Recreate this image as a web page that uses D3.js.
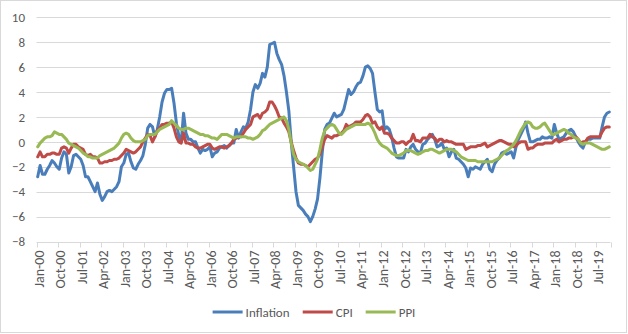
<!DOCTYPE html>
<html>
<head>
<meta charset="utf-8">
<script src="https://cdn.jsdelivr.net/npm/d3@7"></script>
<style>
  body { margin: 0; background: #fff; }
  svg { display: block; }
  text { font-family: Carlito, Calibri, Lato, sans-serif; fill: #595959; }
</style>
</head>
<body>
<svg id="chart" width="628" height="334"></svg>
<script>
// monthly series, Jan-2000 .. Dec-2019 (one row per year)
const inflation = [
  -2.8,-1.9,-2.6,-2.6,-2.2,-1.9,-1.5,-1.7,-2.0,-2.2,-1.3,-0.8,
  -1.0,-2.5,-2.0,-1.1,-1.0,-1.2,-1.4,-1.9,-2.8,-2.8,-3.2,-3.6,
  -4.0,-3.3,-4.2,-4.7,-4.4,-4.0,-3.9,-4.0,-3.8,-3.6,-3.2,-2.0,
  -1.7,-1.0,-0.9,-1.6,-2.1,-2.2,-1.8,-1.5,-1.1,-0.2,1.1,1.4,
  1.2,0.4,1.0,2.0,3.2,3.9,4.2,4.2,4.3,3.1,1.5,0.5,
  0.0,2.3,0.7,0.2,0.2,0.0,0.0,-0.5,-0.9,-0.6,-0.7,-0.6,
  -0.4,-1.2,-0.9,-0.8,-0.5,-0.4,-0.3,-0.5,-0.3,-0.1,-0.1,1.0,
  0.3,0.8,1.2,1.1,1.6,2.6,4.0,4.6,4.3,4.7,5.5,5.2,
  6.0,7.8,7.9,8.0,7.1,6.6,6.2,5.3,4.0,2.5,0.0,-2.0,
  -4.0,-5.1,-5.3,-5.5,-5.8,-6.0,-6.4,-6.0,-5.4,-4.6,-2.9,-0.8,
  1.0,1.4,1.5,1.9,2.3,2.0,2.1,2.2,2.6,3.4,4.2,3.8,
  4.0,4.4,4.7,4.8,5.3,6.0,6.1,5.9,5.5,4.0,2.6,2.4,
  2.5,1.0,1.2,1.0,0.4,-0.5,-1.2,-1.3,-1.3,-1.3,-0.6,-0.8,
  -0.4,-0.2,-0.6,-0.8,-0.9,-0.2,-0.1,0.2,0.4,0.6,0.2,-0.4,
  -0.3,-0.1,-0.6,-0.5,-1.2,-0.8,-0.6,-1.3,-1.4,-1.6,-1.8,-2.1,
  -2.8,-2.1,-2.2,-2.0,-2.1,-2.2,-1.8,-1.6,-1.4,-2.2,-2.4,-1.8,
  -1.5,-1.3,-0.9,-0.8,-1.0,-0.9,-0.8,-1.3,-0.4,0.2,0.6,1.0,
  1.6,0.7,0.0,0.0,0.1,0.2,0.2,0.4,0.3,0.3,0.4,0.3,
  1.4,0.7,0.2,0.3,0.4,0.7,0.9,1.0,0.8,0.4,0.0,-0.3,
  -0.5,0.0,0.2,0.2,0.3,0.3,0.3,0.3,1.2,2.0,2.3,2.4
];

const cpi = [
  -1.2,-0.8,-1.2,-1.2,-1.0,-1.0,-0.9,-0.9,-1.0,-1.0,-0.5,-0.4,
  -0.5,-0.9,-0.5,-0.2,-0.2,-0.4,-0.5,-0.6,-1.0,-1.1,-1.0,-1.2,
  -1.2,-1.3,-1.7,-1.7,-1.6,-1.6,-1.5,-1.5,-1.4,-1.4,-1.3,-1.1,
  -0.9,-0.6,-0.7,-0.8,-0.9,-0.8,-0.6,-0.4,0.0,0.3,0.6,0.5,
  0.0,0.4,0.9,1.1,1.4,1.4,1.5,1.5,1.6,1.1,0.4,0.0,
  -0.1,0.7,-0.1,-0.1,-0.2,-0.2,-0.4,-0.5,-0.5,-0.4,-0.3,-0.2,
  -0.2,-0.5,-0.6,-0.5,-0.4,-0.4,-0.5,-0.4,-0.3,-0.1,0.2,0.3,
  0.4,0.4,0.7,1.0,1.2,1.4,2.0,2.1,2.2,1.9,2.3,2.4,
  2.6,3.2,3.2,2.9,2.5,2.0,1.9,1.5,1.2,0.8,0.0,-0.7,
  -1.3,-1.7,-1.8,-1.8,-1.9,-2.0,-1.8,-1.6,-1.4,-1.3,-1.0,-0.4,
  0.2,0.5,0.4,0.3,0.5,0.5,0.6,0.7,0.9,1.4,1.2,1.3,
  1.4,1.6,1.6,1.6,1.8,2.1,2.2,2.0,1.5,1.6,1.2,1.0,
  1.2,0.7,0.7,0.6,0.3,0.1,-0.1,-0.1,0.0,0.0,-0.2,0.0,
  0.1,0.6,0.1,0.1,0.0,0.3,0.3,0.3,0.6,0.4,0.3,0.0,
  0.2,0.2,0.0,0.1,0.0,0.0,-0.1,-0.2,-0.2,-0.2,-0.2,-0.6,
  -0.5,-0.4,-0.4,-0.4,-0.3,-0.3,-0.2,-0.1,-0.4,-0.3,-0.2,-0.1,
  0.0,0.1,0.1,0.0,-0.1,-0.2,-0.2,-0.4,-0.3,-0.1,0.0,0.0,
  0.0,-0.6,-0.5,-0.5,-0.3,-0.2,-0.2,-0.2,-0.1,-0.1,-0.1,-0.1,
  0.1,0.2,0.0,0.1,0.2,0.2,0.3,0.3,0.4,0.4,0.2,-0.1,
  0.0,0.0,0.3,0.4,0.4,0.4,0.4,0.4,0.8,1.1,1.2,1.2
];

const ppi = [
  -0.4,-0.1,0.1,0.3,0.4,0.4,0.5,0.8,0.7,0.6,0.6,0.4,
  0.2,-0.1,-0.2,-0.3,-0.4,-0.5,-0.7,-0.9,-1.0,-1.2,-1.2,-1.3,
  -1.3,-1.3,-1.1,-1.0,-0.9,-0.8,-0.7,-0.6,-0.5,-0.3,-0.1,0.3,
  0.6,0.7,0.6,0.3,0.1,0.0,0.0,0.0,0.1,0.2,0.5,0.6,
  0.6,0.6,0.8,1.0,1.1,1.2,1.3,1.4,1.7,1.5,1.3,1.1,
  1.0,1.0,1.1,1.1,1.0,0.9,0.8,0.7,0.6,0.6,0.5,0.5,
  0.4,0.3,0.3,0.2,0.4,0.6,0.6,0.6,0.5,0.4,0.3,0.4,
  0.4,0.4,0.4,0.4,0.3,0.3,0.2,0.3,0.4,0.6,0.9,1.0,
  1.2,1.4,1.5,1.6,1.7,1.8,1.9,2.0,1.7,1.0,-0.1,-1.0,
  -1.4,-1.6,-1.7,-1.8,-1.9,-2.1,-2.3,-2.2,-1.8,-1.4,-0.6,0.3,
  0.9,1.1,1.3,1.4,1.3,1.0,0.7,0.6,0.8,1.0,1.1,1.2,
  1.3,1.4,1.4,1.4,1.4,1.4,1.5,1.4,1.1,0.7,0.2,-0.1,
  -0.3,-0.4,-0.5,-0.7,-0.9,-1.0,-1.1,-1.1,-1.0,-0.9,-0.7,-0.7,
  -0.7,-0.8,-0.9,-1.0,-0.9,-0.8,-0.7,-0.7,-0.6,-0.6,-0.7,-0.8,
  -0.9,-0.8,-0.7,-0.6,-0.6,-0.6,-0.7,-0.8,-1.0,-1.2,-1.3,-1.4,
  -1.5,-1.5,-1.5,-1.5,-1.6,-1.6,-1.6,-1.6,-1.6,-1.6,-1.6,-1.5,
  -1.4,-1.3,-1.1,-0.9,-0.7,-0.6,-0.4,-0.2,0.1,0.5,0.9,1.2,
  1.5,1.6,1.5,1.2,1.1,1.1,1.2,1.4,1.5,1.2,0.9,0.6,
  0.6,0.7,0.8,0.9,1.0,0.9,0.7,0.6,0.4,0.3,0.2,-0.1,
  -0.2,-0.1,-0.1,-0.1,-0.2,-0.3,-0.4,-0.5,-0.6,-0.6,-0.5,-0.4
];

const yTicks = [-8, -6, -4, -2, 0, 2, 4, 6, 8, 10];
const tickEvery = 9; // a label every 9 months
const seriesNames = ["Inflation", "CPI", "PPI"];
const seriesColors = ["#4A7EBB", "#BE4B48", "#98B954"];

const months = d3.timeMonth.range(new Date(2000, 0, 1), new Date(2020, 0, 1));
const fmt = d3.timeFormat("%b-%y");

const svg = d3.select("#chart");
const W = 628, H = 334;

// chart area border
svg.append("rect")
    .attr("x", 0.5).attr("y", 0.5)
    .attr("width", W - 2).attr("height", H - 2)
    .attr("fill", "#fff")
    .attr("stroke", "#d9d9d9");

const x = d3.scaleBand()
    .domain(d3.range(months.length))
    .range([36.5, 610.5])
    .padding(0);
const xc = i => x(i) + x.bandwidth() / 2;

const y = d3.scaleLinear()
    .domain([-8, 10])
    .range([241.5, 17.3]);

// horizontal gridlines
svg.append("g")
    .selectAll("line")
    .data(yTicks.filter(d => d > -8))
    .enter()
    .append("line")
    .attr("x1", 36.5).attr("x2", 610.5)
    .attr("y1", d => Math.round(y(d)) + 0.5)
    .attr("y2", d => Math.round(y(d)) + 0.5)
    .attr("stroke", "#d9d9d9")
    .attr("stroke-width", 1);

// y axis labels
const yAxis = d3.axisLeft(y).tickValues(yTicks).tickSize(0).tickPadding(0);
const yg = svg.append("g")
    .attr("transform", "translate(25,0)")
    .call(yAxis);
yg.select(".domain").remove();
yg.selectAll("text")
    .attr("font-size", 13)
    .attr("font-family", null)
    .style("fill", "#595959");

// x axis: line at the bottom, ticks at category boundaries
const axisY = Math.round(y(-8)) + 0.5;
svg.append("line")
    .attr("x1", 36.5).attr("x2", 610.5)
    .attr("y1", axisY).attr("y2", axisY)
    .attr("stroke", "#d9d9d9");

const tickIdx = d3.range(0, months.length, tickEvery);
svg.append("g")
    .selectAll("line")
    .data(tickIdx.concat([months.length]))
    .enter()
    .append("line")
    .attr("x1", d => Math.round(d < months.length ? x(d) : 610.5) + 0.5)
    .attr("x2", d => Math.round(d < months.length ? x(d) : 610.5) + 0.5)
    .attr("y1", axisY).attr("y2", axisY + 5)
    .attr("stroke", "#d9d9d9");

svg.append("g")
    .selectAll("text")
    .data(tickIdx)
    .enter()
    .append("text")
    .attr("transform", d => "translate(" + (xc(d) + 1) + "," + (axisY + 8) + ") rotate(-90)")
    .attr("text-anchor", "end")
    .attr("dy", "0.35em")
    .attr("font-size", 14)
    .text(d => fmt(months[d]));

// series lines
const series = [inflation, cpi, ppi];
const line = d3.line()
    .x((d, i) => xc(i))
    .y(d => y(d));

svg.append("g")
    .selectAll("path")
    .data(series)
    .enter()
    .append("path")
    .attr("d", d => line(d))
    .attr("fill", "none")
    .attr("stroke", (d, i) => seriesColors[i])
    .attr("stroke-width", 3)
    .attr("stroke-linejoin", "round")
    .attr("stroke-linecap", "round");

// legend
const legend = svg.append("g");
const items = legend.selectAll("g")
    .data(seriesNames)
    .enter()
    .append("g");
items.append("line")
    .attr("x1", 0).attr("x2", 30)
    .attr("y1", 0).attr("y2", 0)
    .attr("stroke", (d, i) => seriesColors[i])
    .attr("stroke-width", 3);
items.append("text")
    .attr("x", 33)
    .attr("dy", "0.35em")
    .attr("font-size", 13)
    .text(d => d);

let pos = 0;
const offsets = [];
items.each(function() {
    offsets.push(pos);
    pos += this.getBBox().width + 13;
});
const total = pos - 13;
items.attr("transform", (d, i) => "translate(" + offsets[i] + ",0)");
legend.attr("transform", "translate(" + (314 - total / 2) + ",312)");
</script>
</body>
</html>
